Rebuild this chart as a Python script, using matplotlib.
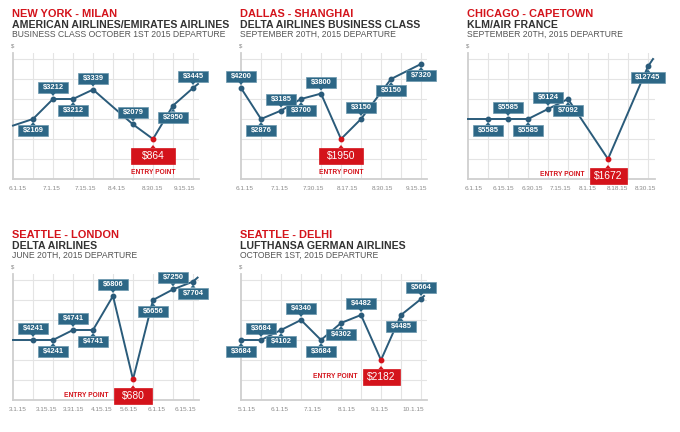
import matplotlib
matplotlib.use("Agg")
import matplotlib.pyplot as plt
from matplotlib.patches import Rectangle, Polygon
from matplotlib.transforms import ScaledTranslation

plt.rcParams['font.family'] = ['Liberation Sans', 'DejaVu Sans']

# --- data (x = grid column, lv = grid row height as drawn in the graphic) ---
ny_title = ["NEW YORK - MILAN", "AMERICAN AIRLINES/EMIRATES AIRLINES", "BUSINESS CLASS OCTOBER 1ST 2015 DEPARTURE"]
ny_x = [0, 1, 2, 3, 4, 6, 7, 8, 9, 9.25]
ny_lv = [2.67, 3.0, 4.0, 4.0, 4.47, 2.73, 2.0, 3.67, 4.55, 4.75]
ny_price = [None, "$2169", "$3212", "$3212", "$3339", "$2079", "$864", "$2950", "$3445", None]
ny_side = ["", "b", "a", "b", "a", "a", "r", "b", "a", ""]
ny_dates = ["6.1.15", "7.1.15", "7.15.15", "8.4.15", "8.30.15", "9.15.15"]
ny_date_at = [0.25, 1.95, 3.6, 5.2, 6.95, 8.6]

da_title = ["DALLAS - SHANGHAI", "DELTA AIRLINES BUSINESS CLASS", "SEPTEMBER 20TH, 2015 DEPARTURE"]
da_x = [0, 1, 2, 3, 4, 5, 6, 7.5, 9]
da_lv = [4.55, 3.0, 3.42, 4.0, 4.27, 2.0, 3.0, 5.0, 5.75]
da_price = ["$4200", "$2876", "$3185", "$3700", "$3800", "$1950", "$3150", "$5150", "$7320"]
da_side = ["a", "b", "a", "b", "a", "r", "a", "b", "b"]
da_dates = ["6.1.15", "7.1.15", "7.30.15", "8.17.15", "8.30.15", "9.15.15"]
da_date_at = [0.2, 1.95, 3.6, 5.3, 7.05, 8.8]

ch_title = ["CHICAGO - CAPETOWN", "KLM/AIR FRANCE", "SEPTEMBER 20TH, 2015 DEPARTURE"]
ch_x = [0, 1, 2, 3, 4, 5, 7, 9, 9.25]
ch_lv = [3.0, 3.0, 3.0, 3.0, 3.5, 4.0, 1.0, 5.63, 6.0]
ch_price = [None, "$5585", "$5585", "$5585", "$6124", "$7092", "$1672", "$12745", None]
ch_side = ["", "b", "a", "b", "a", "b", "r", "b", ""]
ch_dates = ["6.1.15", "6.15.15", "6.30.15", "7.15.15", "8.1.15", "8.18.15", "8.30.15"]
ch_date_at = [0.3, 1.75, 3.2, 4.6, 6.0, 7.45, 8.85]

sl_title = ["SEATTLE - LONDON", "DELTA AIRLINES", "JUNE 20TH, 2015 DEPARTURE"]
sl_x = [0, 1, 2, 3, 4, 5, 6, 7, 8, 9, 9.23]
sl_lv = [3.0, 3.0, 3.0, 3.5, 3.5, 5.2, 1.03, 5.0, 5.53, 5.92, 6.12]
sl_price = [None, "$4241", "$4241", "$4741", "$4741", "$6806", "$680", "$6656", "$7250", "$7704", None]
sl_side = ["", "a", "b", "a", "b", "a", "r", "b", "a", "b", ""]
sl_dates = ["3.1.15", "3.15.15", "3.31.15", "4.15.15", "5.6.15", "6.1.15", "6.15.15"]
sl_date_at = [0.25, 1.7, 3.05, 4.45, 5.8, 7.2, 8.6]

sd_title = ["SEATTLE - DELHI", "LUFTHANSA GERMAN AIRLINES", "OCTOBER 1ST, 2015 DEPARTURE"]
sd_x = [0, 1, 2, 3, 4, 5, 6, 7, 8, 9, 9.15]
sd_lv = [3.0, 3.0, 3.5, 4.0, 3.0, 3.85, 4.25, 2.0, 4.25, 5.05, 5.2]
sd_price = ["$3684", "$3684", "$4102", "$4340", "$3684", "$4302", "$4482", "$2182", "$4485", "$5664", None]
sd_side = ["b", "a", "b", "a", "b", "b", "a", "r", "b", "a", ""]
sd_dates = ["5.1.15", "6.1.15", "7.1.15", "8.1.15", "9.1.15", "10.1.15"]
sd_date_at = [0.3, 1.95, 3.6, 5.3, 6.95, 8.6]

# --- style ---
W, H = 680, 432
LINE = "#2a5b7a"
BOX = "#2d6786"
BOX_EDGE = "#6a97ad"
RED = "#d4131b"
GRID = "#e4e4e4"

fig = plt.figure(figsize=(6.8, 4.32), dpi=100)


def tag(ax, x, y, text, side, red_w=44):
    tr = fig.dpi_scale_trans + ScaledTranslation(x, y, ax.transData)
    if side == "r":
        w, h, gap, col, fs, wt = red_w, 16, 9, RED, 7.4, "normal"
    else:
        w = 34 if len(text) > 5 else 30
        h, gap, col, fs, wt = 11, 6, BOX, 5.4, "bold"
    sgn = 1 if side == "a" else -1
    y0 = gap if sgn > 0 else -gap - h
    ax.add_patch(Rectangle((-w / 200, y0 / 100), w / 100, h / 100, transform=tr,
                           facecolor=col, edgecolor=BOX_EDGE if side != "r" else col,
                           lw=0.5, clip_on=False, zorder=5))
    tip = [(-2.5 / 100, sgn * gap / 100), (2.5 / 100, sgn * gap / 100), (0, sgn * (gap - 3) / 100)]
    ax.add_patch(Polygon(tip, closed=True, transform=tr, facecolor=col,
                         edgecolor="none", clip_on=False, zorder=5))
    cy = (y0 + h / 2) * 0.72
    ax.annotate(text, xy=(x, y), xytext=(0, cy), textcoords="offset points",
                ha="center", va="center", color="white", fontsize=fs,
                fontweight=wt, zorder=6, annotation_clip=False)


def panel(left, base, title, xs, lv, price, side, dates, date_at, entry, red_w, xmax=9.3):
    width = xmax * 20
    height = 6.3 * 20
    ax = fig.add_axes([left / W, (H - base) / H, width / W, height / H])
    ax.set_xlim(0, xmax)
    ax.set_ylim(0, 6.3)
    for v in range(1, 10):
        ax.axvline(v, color=GRID, lw=0.8, zorder=0)
    for v in range(1, 7):
        ax.axhline(v, color=GRID, lw=0.8, zorder=0)
    for s in ["top", "right"]:
        ax.spines[s].set_visible(False)
    for s in ["left", "bottom"]:
        ax.spines[s].set_color("#cfcfcf")
        ax.spines[s].set_linewidth(1.3)
    ax.set_yticks([])
    ax.set_xticks(date_at, dates)
    ax.tick_params(axis="x", length=0, pad=5, labelsize=4.6, labelcolor="#8a8a8a")
    ax.annotate("$", xy=(0, 1), xycoords="axes fraction", xytext=(0, 3),
                textcoords="offset points", ha="center", va="bottom",
                fontsize=4.4, color="#8a8a8a")

    ax.plot(xs, lv, color=LINE, lw=1.4, zorder=3, clip_on=False)
    for x, y, p, s in zip(xs, lv, price, side):
        if p is None:
            continue
        ax.plot([x], [y], "o", ms=3.2, color=RED if s == "r" else LINE, zorder=4, clip_on=False)
        tag(ax, x, y, p, s, red_w)
        if s == "r":
            if entry == "below":
                ax.annotate("ENTRY POINT", xy=(x, y), xytext=(0, -33 * 0.72),
                            textcoords="offset points", ha="center", va="center",
                            color=RED, fontsize=4.8, fontweight="bold", annotation_clip=False)
            else:
                ax.annotate("ENTRY POINT", xy=(x, y), xytext=(-(red_w / 2 + 5) * 0.72, -16 * 0.72),
                            textcoords="offset points", ha="right", va="center",
                            color=RED, fontsize=4.8, fontweight="bold", annotation_clip=False)

    tx = left - 1
    ty = base - 162
    fig.text(tx / W, 1 - ty / H, title[0], color=RED, fontsize=7.9, fontweight="bold", va="baseline")
    fig.text(tx / W, 1 - (ty + 11) / H, title[1], color="#333333", fontsize=7.6, fontweight="bold", va="baseline")
    fig.text(tx / W, 1 - (ty + 20) / H, title[2], color="#555555", fontsize=6.2, va="baseline")
    return ax


panel(13, 179, ny_title, ny_x, ny_lv, ny_price, ny_side, ny_dates, ny_date_at, "below", 44)
panel(241, 179, da_title, da_x, da_lv, da_price, da_side, da_dates, da_date_at, "below", 44)
panel(468, 179, ch_title, ch_x, ch_lv, ch_price, ch_side, ch_dates, ch_date_at, "left", 37, xmax=9.35)
panel(13, 400, sl_title, sl_x, sl_lv, sl_price, sl_side, sl_dates, sl_date_at, "left", 38)
panel(241, 400, sd_title, sd_x, sd_lv, sd_price, sd_side, sd_dates, sd_date_at, "left", 37)

fig.savefig("out.png", dpi=100, facecolor="white")
